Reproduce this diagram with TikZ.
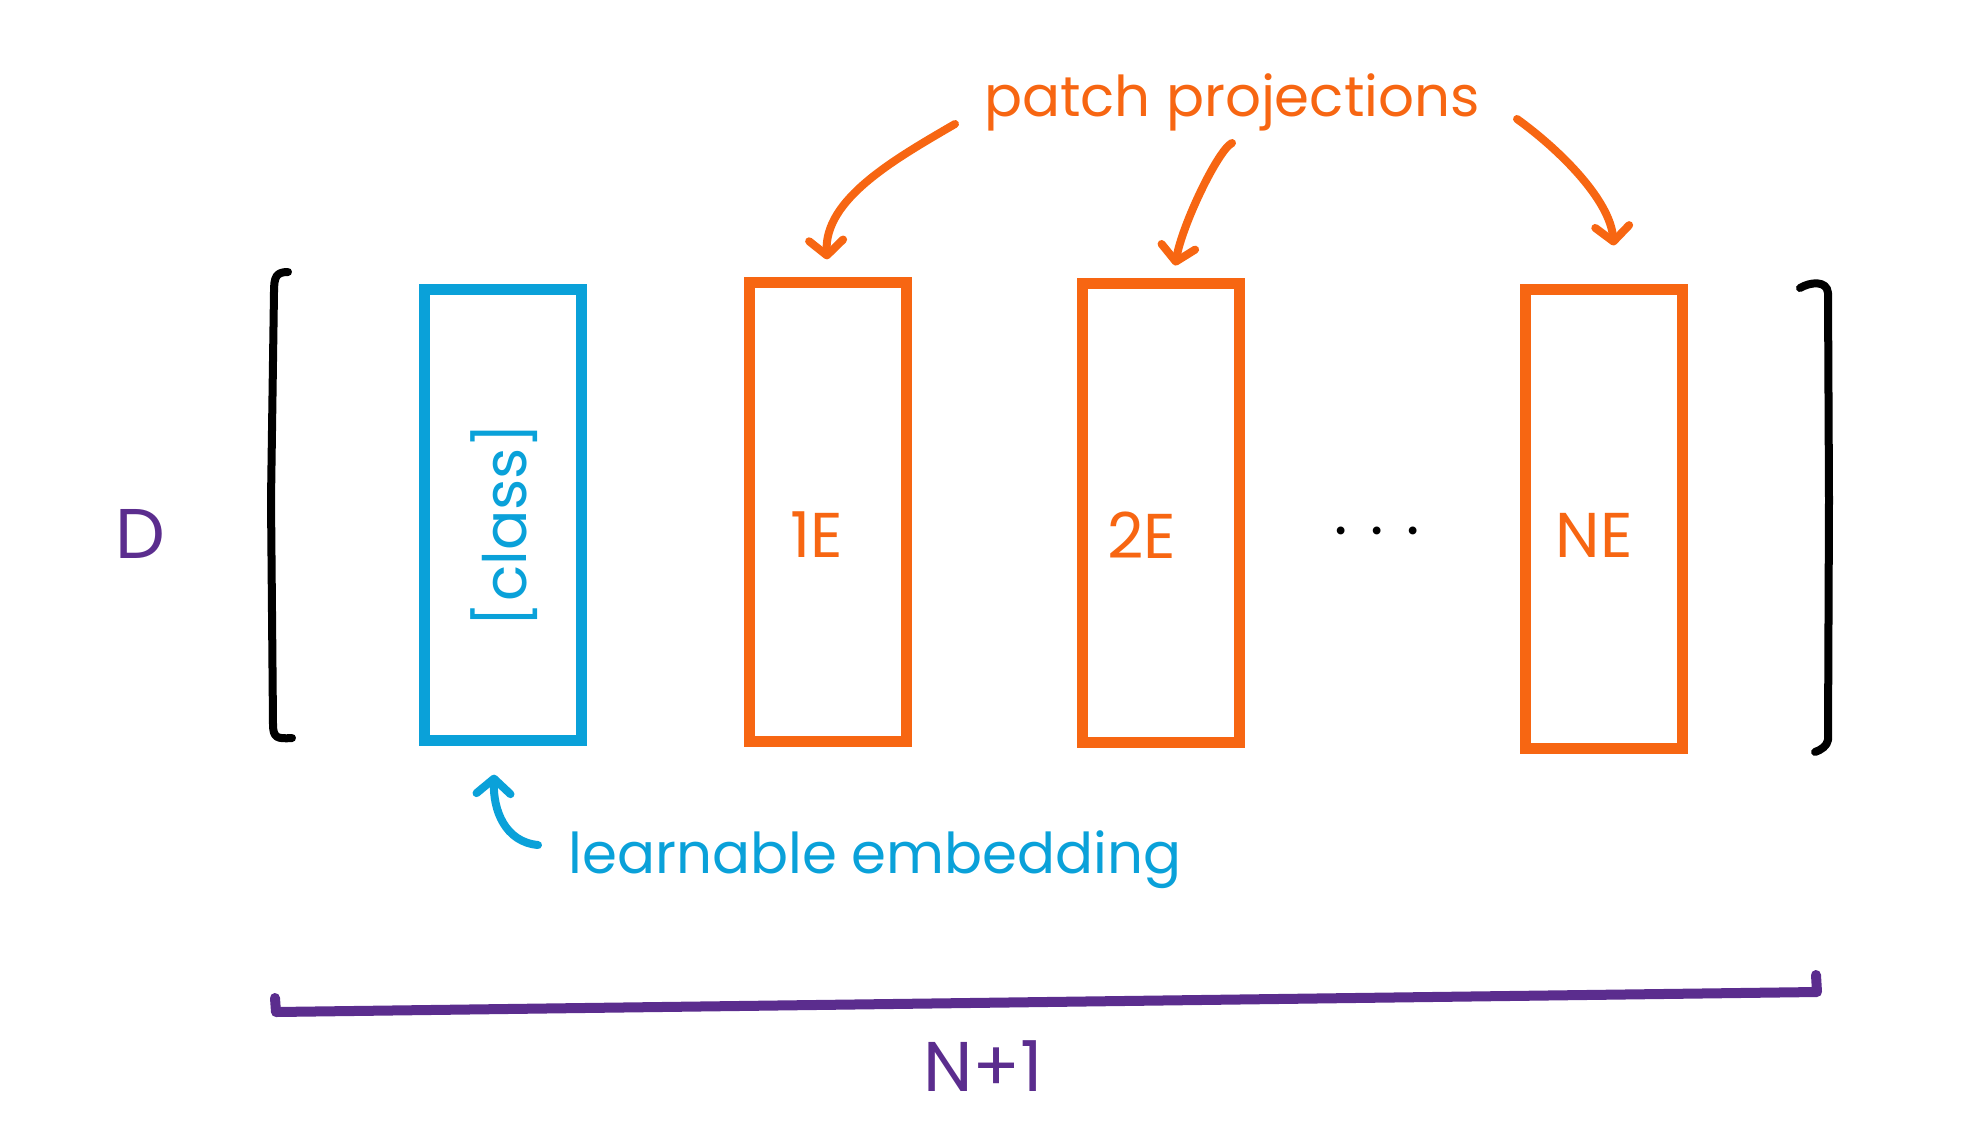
\documentclass[tikz,border=0pt]{standalone}
\usepackage{fontspec}
\setmainfont{Poppins}
\usetikzlibrary{arrows.meta,positioning}

\definecolor{clsblue}{HTML}{0AA1D9}
\definecolor{patchorange}{HTML}{F76612}
\definecolor{dimpurple}{HTML}{5B2D8E}

\begin{document}
\begin{tikzpicture}[x=0.01cm,y=-0.01cm,>={Straight Barb[length=0.15cm,width=0.34cm,round]}]
  % Styles for tokens, hand-written labels and strokes
  \tikzset{
    token/.style = {draw, line width=0.11cm, minimum width=1.56cm, minimum height=4.58cm, inner sep=0pt},
    clstoken/.style = {token, draw=clsblue, minimum height=4.5cm},
    patchtoken/.style = {token, draw=patchorange},
    hand/.style = {font=\fontsize{16}{19}\selectfont},
    tag/.style = {font=\fontsize{18}{22}\selectfont},
    pointer/.style = {->, line width=0.08cm, line cap=round},
    bracket/.style = {line width=0.08cm, line cap=round, line join=round},
    dimline/.style = {draw=dimpurple, line width=0.1cm, line cap=round, line join=round}
  }

  % Canvas in pixel units, origin at the top left
  \useasboundingbox (0,0) rectangle (1984,1133);

  % --- The N+1 token columns ---
  \node[clstoken]   (cls)  at (503,515)  {};
  \node[patchtoken] (tok1) at (828,512)  {};
  \node[patchtoken] (tok2) at (1161,513) {};
  \node[patchtoken] (tokN) at (1604,519) {};

  % --- Labels inside the columns ---
  \node[font=\fontsize{17}{20}\selectfont, text=clsblue, rotate=90] (clstxt) at (504,525) {[class]};
  \node[tag, text=patchorange] (txt1) at (817,535)  {1E};
  \node[tag, text=patchorange] (txt2) at (1142,535) {2E};
  \node[tag, text=patchorange] (txtN) at (1594,535) {NE};
  \node[tag] (dots) at (1377,531) {.\hspace{0.23cm}.\hspace{0.23cm}.};

  % --- Matrix brackets ---
  \draw[bracket] (288,272) .. controls (276,272) and (274,277) .. (274,292)
    -- (271,500) -- (273,724) .. controls (273,738) and (277,739) .. (292,738);
  \draw[bracket] (1800,288) .. controls (1810,282) and (1827,280) .. (1828,293)
    -- (1829,500) -- (1828,740) .. controls (1827,746) and (1821,750) .. (1815,752);

  % --- Dimensions ---
  \node[font=\fontsize{20}{24}\selectfont, text=dimpurple] (dimD) at (140,534) {D};
  \draw[dimline] (275,998) -- (276,1012) -- (1817,992) -- (1816,975);
  \node[font=\fontsize{20}{24}\selectfont, text=dimpurple] (dimN) at (983,1066) {N+1};

  % --- Patch projections and their arrows ---
  \node[hand, text=patchorange, anchor=base] (patch) at (1232,116) {patch projections};
  \coordinate (pp1) at (955,124);
  \coordinate (pp2) at (1232,143);
  \coordinate (pp3) at (1517,119);
  \draw[pointer, patchorange, shorten >=0.18cm] (pp1) .. controls (895,159) and (824,199) .. (tok1.north);
  \draw[pointer, patchorange, shorten >=0.13cm] (pp2) .. controls (1218,150) and (1182,225) .. ([xshift=0.12cm]tok2.north);
  \draw[pointer, patchorange, shorten >=0.39cm] (pp3) .. controls (1560,150) and (1610,200) .. ([xshift=0.13cm]tokN.north);

  % --- Learnable class embedding ---
  \node[hand, text=clsblue, anchor=base] (embed) at (875,873) {learnable embedding};
  \coordinate (emb) at (538,845);
  \draw[pointer, clsblue, shorten >=0.29cm] (emb) .. controls (505,842) and (493,810) .. ([xshift=-0.08cm]cls.south);

\end{tikzpicture}
\end{document}
